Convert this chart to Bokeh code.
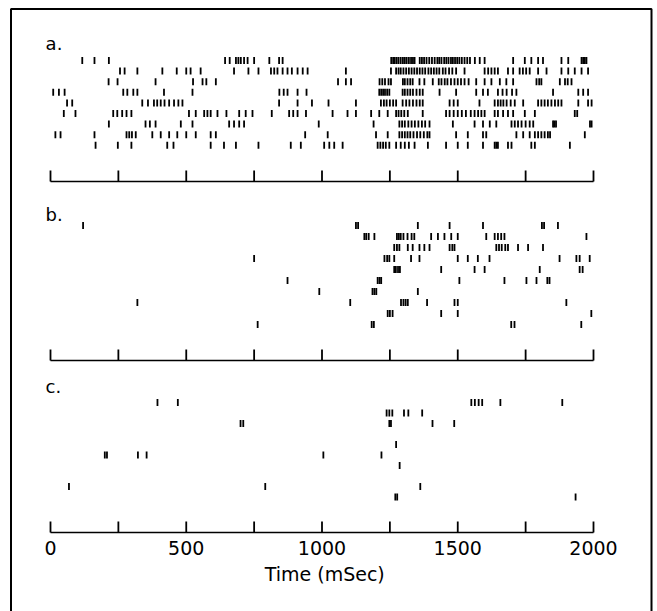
from bokeh.plotting import figure
from bokeh.models import Range1d, ColumnDataSource, BoxAnnotation
from bokeh.embed import file_html
from bokeh.resources import INLINE
from bokeh.core.properties import value

# ---------------- data: spike times (ms) per trial row ----------------
A1 = [117, 162, 215, 643, 660, 683, 692, 701, 713, 726, 750, 806, 842, 855,
      1255, 1262, 1268, 1275, 1282, 1290, 1298, 1305, 1312, 1320, 1328, 1335, 1341,
      1360, 1368, 1376, 1385, 1395, 1405, 1415, 1425, 1432, 1440, 1450, 1458, 1466,
      1475, 1482, 1490, 1498, 1506, 1515, 1525, 1535, 1545, 1563, 1581, 1599,
      1704, 1747, 1771, 1796, 1814, 1882, 1907, 1956, 1962, 1968, 1974]
A2 = [256, 273, 320, 412, 465, 500, 516, 553, 676, 729, 766, 812, 824, 836, 855,
      873, 889, 910, 929, 947, 1088, 1254, 1273, 1282, 1290, 1300, 1310, 1320, 1330,
      1340, 1350, 1360, 1370, 1380, 1392, 1402, 1412, 1422, 1432, 1445, 1455, 1468,
      1480, 1494, 1525, 1599, 1612, 1624, 1636, 1648, 1685, 1704, 1728, 1740, 1752,
      1765, 1796, 1827, 1882, 1907, 1931, 1956, 1980]
A3 = [214, 247, 387, 525, 560, 574, 609, 1059, 1088, 1107, 1212, 1222, 1232, 1245,
      1254, 1298, 1305, 1315, 1325, 1334, 1359, 1377, 1408, 1430, 1440, 1452, 1462,
      1475, 1488, 1500, 1512, 1525, 1540, 1568, 1599, 1624, 1655, 1679, 1704, 1790,
      1800, 1808, 1876, 1895, 1905, 1919]
A4 = [10, 31, 52, 268, 283, 305, 320, 418, 523, 843, 859, 873, 910, 943, 1211, 1218,
      1225, 1232, 1240, 1248, 1297, 1305, 1315, 1325, 1335, 1348, 1360, 1371, 1433,
      1494, 1568, 1593, 1611, 1648, 1665, 1680, 1700, 1716, 1851, 1944, 1962, 1980]
A5 = [61, 80, 338, 359, 381, 393, 406, 420, 437, 455, 471, 486, 842, 910, 963, 1024,
      1125, 1217, 1228, 1238, 1250, 1262, 1273, 1297, 1310, 1322, 1335, 1348, 1360,
      1371, 1470, 1485, 1500, 1580, 1636, 1648, 1658, 1668, 1680, 1695, 1710, 1741,
      1796, 1808, 1820, 1832, 1845, 1858, 1870, 1882, 1944, 1980, 1993]
A6 = [49, 92, 231, 246, 264, 280, 298, 510, 535, 566, 578, 590, 615, 648, 695, 719,
      744, 815, 879, 894, 910, 941, 1039, 1094, 1125, 1181, 1211, 1242, 1273, 1282,
      1292, 1303, 1316, 1371, 1457, 1470, 1485, 1500, 1515, 1530, 1548, 1562, 1575,
      1587, 1599, 1636, 1648, 1667, 1685, 1704, 1747, 1784, 1931, 1940]
A7 = [215, 350, 366, 387, 480, 523, 658, 676, 695, 713, 988, 1190, 1285, 1295, 1305,
      1318, 1330, 1342, 1355, 1368, 1380, 1396, 1482, 1562, 1593, 1618, 1642, 1698,
      1710, 1722, 1735, 1750, 1765, 1778, 1851, 1856, 1862, 1987, 1993]
A8 = [18, 37, 162, 280, 290, 300, 314, 375, 406, 437, 467, 500, 535, 590, 609, 938,
      1021, 1199, 1242, 1285, 1295, 1305, 1315, 1325, 1337, 1350, 1362, 1375, 1388,
      1396, 1494, 1537, 1593, 1605, 1716, 1741, 1765, 1784, 1796, 1808, 1820, 1832,
      1840, 1968]
A9 = [166, 248, 298, 430, 453, 590, 639, 683, 766, 885, 922, 1008, 1027, 1045, 1076,
      1205, 1215, 1225, 1235, 1248, 1273, 1290, 1305, 1320, 1341, 1390, 1457, 1500,
      1537, 1593, 1636, 1642, 1648, 1685, 1698, 1771, 1784, 1913]

B1 = [120, 1125, 1133, 1353, 1470, 1593, 1810, 1818, 1869]
B2 = [1156, 1163, 1172, 1193, 1276, 1283, 1290, 1300, 1315, 1330, 1340, 1402, 1427,
      1451, 1476, 1500, 1605, 1636, 1648, 1660, 1672, 1974]
B3 = [1266, 1276, 1285, 1316, 1334, 1359, 1377, 1396, 1470, 1480, 1488, 1642, 1652,
      1662, 1675, 1685, 1722, 1759, 1814]
B4 = [750, 1230, 1240, 1248, 1266, 1328, 1359, 1500, 1537, 1574, 1617, 1875, 1937,
      1949, 1986]
B5 = [1266, 1272, 1280, 1287, 1439, 1562, 1599, 1802, 1949, 1960]
B6 = [873, 1205, 1212, 1218, 1506, 1672, 1753, 1790, 1830, 1838]
B7 = [990, 1186, 1193, 1200, 1353]
B8 = [320, 1104, 1291, 1300, 1308, 1316, 1387, 1488, 1500, 1900]
B9 = [1242, 1250, 1260, 1439, 1500, 1992]
B10 = [763, 1183, 1191, 1697, 1709, 1955]

C1 = [394, 469, 1550, 1563, 1577, 1590, 1657, 1885]
C2 = [1238, 1248, 1259, 1302, 1318, 1369]
C3 = [700, 710, 1248, 1254, 1407, 1487]
C4 = []
C5 = [1273]
C6 = [200, 208, 322, 354, 1005, 1219]
C7 = [1286]
C8 = []
C9 = [68, 791, 1362]
C10 = [1270, 1277, 1934]

PANEL_A = [A1, A2, A3, A4, A5, A6, A7, A8, A9]
PANEL_B = [B1, B2, B3, B4, B5, B6, B7, B8, B9, B10]
PANEL_C = [C1, C2, C3, C4, C5, C6, C7, C8, C9, C10]
PANEL_NAMES = ["a.", "b.", "c."]

TICKS = [0, 250, 500, 750, 1000, 1250, 1500, 1750, 2000]
LABEL_TICKS = [0, 500, 1000, 1500, 2000]
TICK_LABELS = ["0", "500", "1000", "1500", "2000"]
X_TITLE = "Time (mSec)"

# ---------------- layout (page pixels) ----------------
W, H = 657, 611
PX_PER_MS = 543.0 / 2000.0
X0_PX = 50.0


def ms_at(px):
    return (px - X0_PX) / PX_PER_MS


# per panel: first row y, row spacing, baseline y, label y
PANEL_LAYOUT = [
    (60.0, 10.6, 181.0, 43.0),
    (225.0, 11.0, 360.0, 214.0),
    (402.0, 10.5, 532.0, 386.0),
]
TICK_H = 11.0
SPIKE_HALF = 3.5

p = figure(width=W, height=H,
           x_range=Range1d(ms_at(0), ms_at(W)), y_range=Range1d(H, 0),
           output_backend="svg", toolbar_location=None,
           x_axis_location=None, y_axis_location=None,
           min_border_left=0, min_border_right=0,
           min_border_top=0, min_border_bottom=0)
p.grid.visible = False
p.outline_line_color = None
p.background_fill_color = "white"
p.border_fill_color = "white"

# outer frame of the figure (open at the bottom, as in the scan)
p.add_layout(BoxAnnotation(left=ms_at(10.5), right=ms_at(651), top=8.5, bottom=H + 20,
                           fill_alpha=0, line_color="black", line_alpha=1.0,
                           line_width=2))

sx, sy0, sy1 = [], [], []
bx0, bx1, by = [], [], []
tx, ty0, ty1 = [], [], []
lab_x, lab_y, lab_t = [], [], []

for panel, (top, step, base, laby), name in zip([PANEL_A, PANEL_B, PANEL_C], PANEL_LAYOUT, PANEL_NAMES):
    for i, row in enumerate(panel):
        yc = top + i * step
        for t in row:
            sx.append(t)
            sy0.append(yc - SPIKE_HALF)
            sy1.append(yc + SPIKE_HALF)
    bx0.append(TICKS[0]); bx1.append(TICKS[-1]); by.append(base)
    for t in TICKS:
        tx.append(t); ty0.append(base); ty1.append(base - TICK_H)
    lab_x.append(-18); lab_y.append(laby); lab_t.append(name)

spikes = ColumnDataSource(dict(x=sx, y0=sy0, y1=sy1))
p.segment(x0="x", y0="y0", x1="x", y1="y1", source=spikes,
          line_color="black", line_width=1.8)

p.segment(x0=bx0, y0=by, x1=bx1, y1=by, line_color="black", line_width=1.6)
p.segment(x0=tx, y0=ty0, x1=tx, y1=ty1, line_color="black", line_width=1.8)

p.text(x=lab_x, y=lab_y, text=lab_t, text_font=value("DejaVu Sans"),
       text_font_size="18px", text_align="left", text_baseline="middle",
       text_color="black")

base_c = PANEL_LAYOUT[2][2]
p.text(x=LABEL_TICKS, y=[base_c + 15] * len(LABEL_TICKS), text=TICK_LABELS,
       text_font=value("DejaVu Sans"), text_font_size="19px",
       text_align="center", text_baseline="middle", text_color="black")
p.text(x=[1010], y=[base_c + 41], text=[X_TITLE],
       text_font=value("DejaVu Sans"), text_font_size="19px",
       text_align="center", text_baseline="middle", text_color="black")

open("out.html", "w").write(file_html(p, INLINE))
